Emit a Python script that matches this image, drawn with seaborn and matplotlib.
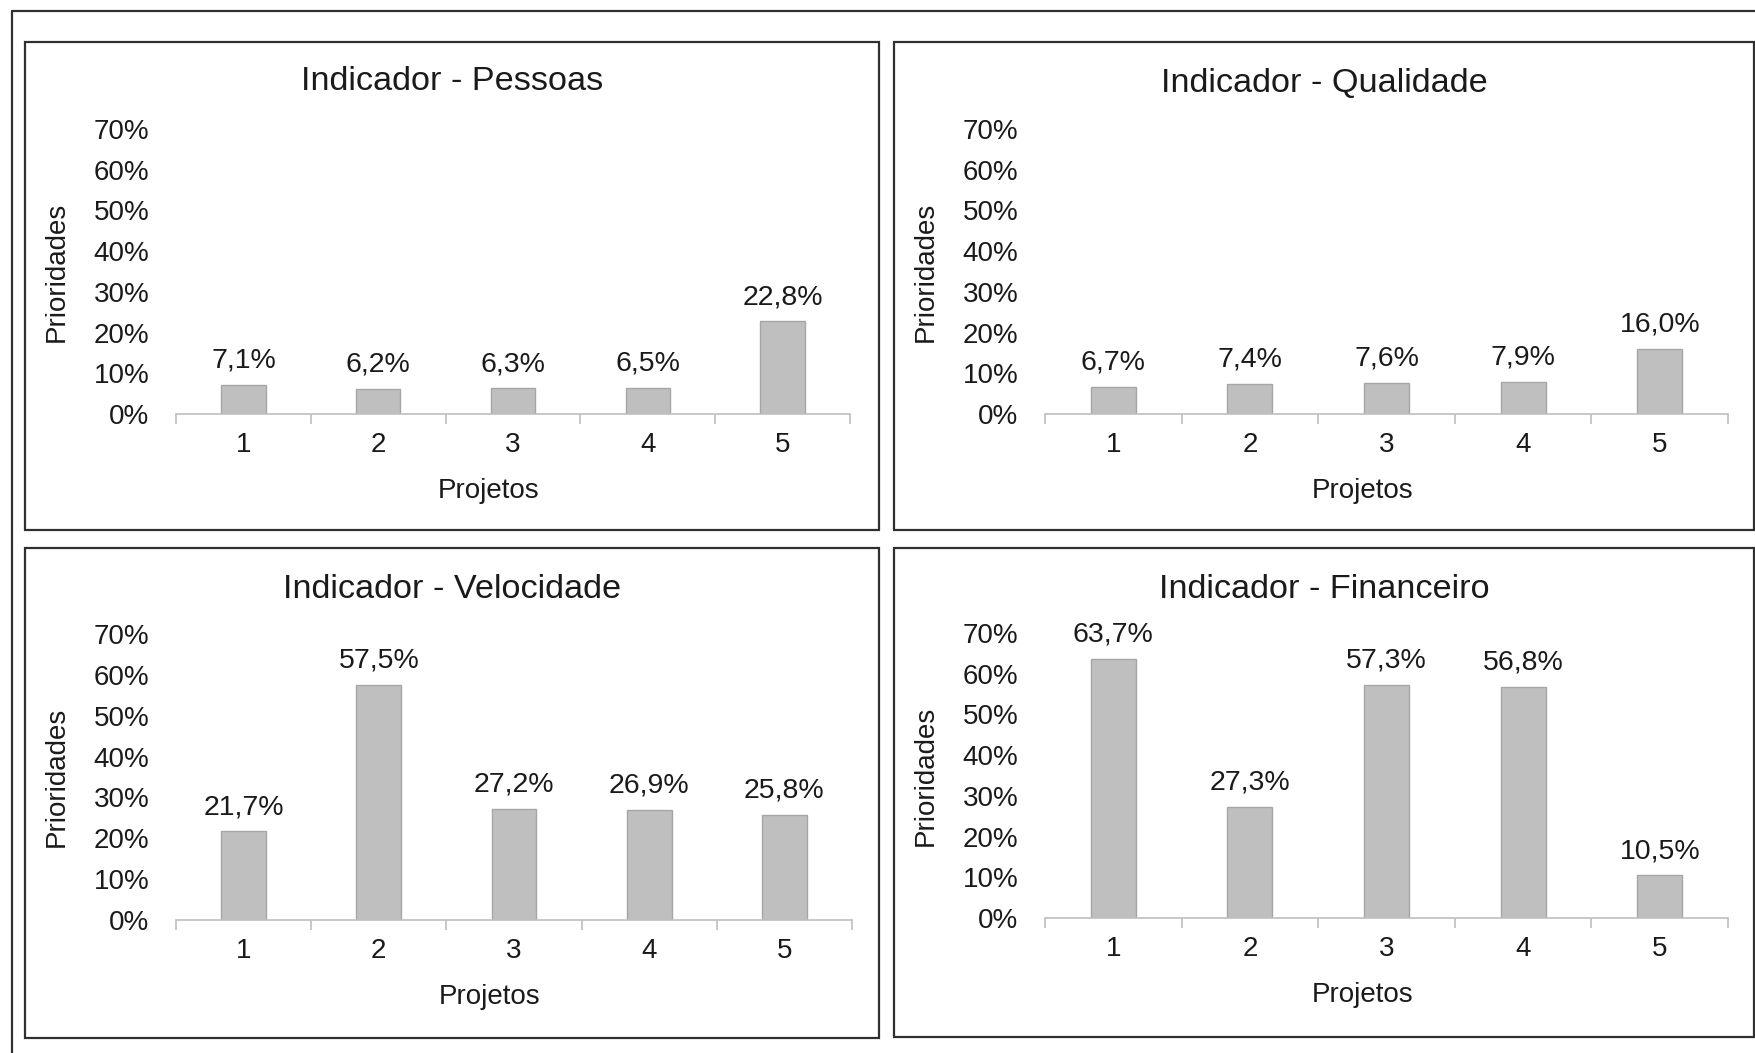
import matplotlib
matplotlib.use("Agg")
import matplotlib.pyplot as plt
import seaborn as sns
import pandas as pd
from matplotlib.patches import Rectangle
from matplotlib.lines import Line2D
from matplotlib.ticker import FixedLocator, FuncFormatter

sns.set_theme(style="white")
plt.rcParams['font.family'] = ['Liberation Sans', 'DejaVu Sans']

projetos = ["1", "2", "3", "4", "5"]
titulos = ["Indicador - Pessoas", "Indicador - Qualidade",
           "Indicador - Velocidade", "Indicador - Financeiro"]
pessoas = [7.1, 6.2, 6.3, 6.5, 22.8]
qualidade = [6.7, 7.4, 7.6, 7.9, 16.0]
velocidade = [21.7, 57.5, 27.2, 26.9, 25.8]
financeiro = [63.7, 27.3, 57.3, 56.8, 10.5]
y_ticks = [0, 10, 20, 30, 40, 50, 60, 70]

series = [pessoas, qualidade, velocidade, financeiro]

W, H = 1756, 1053
fig = plt.figure(figsize=(W / 100, H / 100), dpi=100)

# axes boxes in pixel coords (left, right, top, bottom) from top-left
axes_px = [
    (176, 850, 129, 414),
    (1045, 1728, 129, 414),
    (176, 852, 634, 920),
    (1045, 1728, 633, 918),
]
panels_px = [
    (25, 879, 42, 530),
    (894, 1754, 42, 530),
    (25, 879, 548, 1038),
    (894, 1754, 548, 1037),
]
title_y_px = [82, 84, 589, 589]

text_color = "#1A1A1A"
bar_color = "#BFBFBF"
edge_color = "#A6A6A6"
axis_color = "#BFBFBF"
frame_color = "#303030"
fs = 20
fs_lab = 20.5

# outer frame (top and left lines only, as cropped in the original)
fig.lines.append(Line2D([12 / W, 1.0], [1 - 11 / H, 1 - 11 / H],
                        transform=fig.transFigure, color=frame_color, linewidth=1.6))
fig.lines.append(Line2D([12 / W, 12 / W], [1 - 11 / H, 0.0],
                        transform=fig.transFigure, color=frame_color, linewidth=1.6))
for (l, r, t, b) in panels_px:
    fig.patches.append(Rectangle((l / W, 1 - b / H), (r - l) / W, (b - t) / H,
                                 transform=fig.transFigure, fill=False,
                                 edgecolor=frame_color, linewidth=1.6))

for i, vals in enumerate(series):
    l, r, t, b = axes_px[i]
    ax = fig.add_axes([l / W, 1 - b / H, (r - l) / W, (b - t) / H])
    df = pd.DataFrame({"Projetos": projetos, "Prioridades": vals})
    sns.barplot(data=df, x="Projetos", y="Prioridades", ax=ax,
                color=bar_color, edgecolor=edge_color, linewidth=1.0,
                width=0.33, saturation=1)
    ax.set_ylim(0, 70)
    ax.set_xlim(-0.5, 4.5)
    ax.yaxis.set_major_locator(FixedLocator(y_ticks))
    ax.yaxis.set_major_formatter(FuncFormatter(lambda v, p: f"{int(v)}%"))
    for s in ["top", "right", "left"]:
        ax.spines[s].set_visible(False)
    ax.spines["bottom"].set_color(axis_color)
    ax.spines["bottom"].set_linewidth(1.2)
    ax.xaxis.set_minor_locator(FixedLocator([-0.5, 0.5, 1.5, 2.5, 3.5, 4.5]))
    ax.tick_params(axis="x", which="minor", length=7, width=1.2,
                   color=axis_color, direction="out", bottom=True)
    ax.tick_params(axis="x", which="major", length=0, pad=13,
                   labelsize=fs, labelcolor=text_color)
    ax.tick_params(axis="y", which="major", length=0, pad=19,
                   labelsize=fs, labelcolor=text_color)
    ax.set_xlabel("Projetos", fontsize=fs, color=text_color)
    ax.set_ylabel("Prioridades", fontsize=fs, color=text_color)
    wpx = r - l
    hpx = b - t
    ax.xaxis.set_label_coords((489 - 176) / 674, -64 / hpx)
    ax.yaxis.set_label_coords(-106 / wpx, 0.5)
    ax.grid(False)
    ax.set_facecolor("none")
    labels = [f"{v:.1f}".replace(".", ",") + "%" for v in vals]
    for cont in ax.containers:
        txts = ax.bar_label(cont, labels=labels, padding=8, fontsize=fs_lab,
                            color=text_color)
        for tx in txts:
            tx.set_clip_on(False)
    pl, pr, pt, pb = panels_px[i]
    fig.text((pl + pr) / 2 / W, 1 - title_y_px[i] / H, titulos[i],
             ha="center", va="center", fontsize=24.7, color=text_color)

fig.savefig("out.png", dpi=100, facecolor="white")
